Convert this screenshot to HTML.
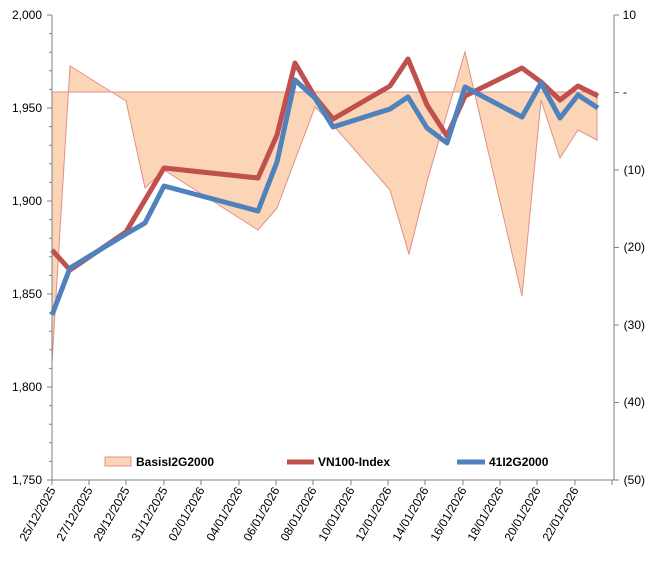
<!DOCTYPE html>
<html><head><meta charset="utf-8"><style>
body{margin:0;background:#fff}
text{font-family:"Liberation Sans",Arial,sans-serif;font-size:12px;fill:#000}
</style></head><body>
<svg width="653" height="561" viewBox="0 0 653 561">
<polygon fill="#fbd5b5" stroke="#e0908a" stroke-width="1" points="52,92 52,362 70,66 126,101 145,188 164,170 258,230 277,208 295,160 315,107 333,125 390,190 409,254 428,178 465,52 522,296 541,100 560,158 578,130 597,140 597,92"/>
<line x1="52" y1="92" x2="597" y2="92" stroke="#e0908a" stroke-width="1"/>
<polyline fill="none" stroke="#c0504d" stroke-width="5" stroke-linejoin="round" points="52,250 70,270 126,232 145,200 164,168 258,178 277,135 295,63 315,97 333,119 390,86 408,59 427,105 447,136 465,96 522,68 541,82 560,100 578,86 598,96"/>
<polyline fill="none" stroke="#4f81bd" stroke-width="5" stroke-linejoin="round" points="52,315 70,268 126,234 145,223 164,186 258,211 277,162 295,80 315,98 333,127 390,109 408,97 427,128 447,143 465,87 522,117 541,83 560,118 578,95 598,108"/>
<g stroke="#808080" stroke-width="1">
<line x1="52" y1="15" x2="52" y2="480"/>
<line x1="614" y1="15" x2="614" y2="480"/>
<line x1="52" y1="480" x2="614" y2="480"/>
<path d="M47,15H52M47,108H52M47,201H52M47,294H52M47,387H52M47,480H52M614,15H619M614,92.5H619M614,170H619M614,247.5H619M614,325H619M614,402.5H619M614,480H619"/>
<path d="M49,33.6H52M49,52.2H52M49,70.8H52M49,89.4H52M49,126.6H52M49,145.2H52M49,163.8H52M49,182.4H52M49,219.6H52M49,238.2H52M49,256.8H52M49,275.4H52M49,312.6H52M49,331.2H52M49,349.8H52M49,368.4H52M49,405.6H52M49,424.2H52M49,442.8H52M49,461.4H52"/>
<path d="M52,480V485M89,480V485M126,480V485M164,480V485M201,480V485M239,480V485M276,480V485M313,480V485M351,480V485M388,480V485M425,480V485M463,480V485M500,480V485M537,480V485M575,480V485M612,480V485"/>
</g>
<g text-anchor="end">
<text x="42" y="19">2,000</text><text x="42" y="112">1,950</text><text x="42" y="205">1,900</text><text x="42" y="298">1,850</text><text x="42" y="391">1,800</text><text x="42" y="484">1,750</text>
</g>
<g text-anchor="end">
<text x="636" y="19">10</text><text x="627" y="96">-</text><text x="645" y="174">(10)</text><text x="645" y="251">(20)</text><text x="645" y="329">(30)</text><text x="645" y="406">(40)</text><text x="645" y="484">(50)</text>
</g>
<g text-anchor="end">
<text transform="translate(56,490) rotate(-60)">25/12/2025</text>
<text transform="translate(93,490) rotate(-60)">27/12/2025</text>
<text transform="translate(130,490) rotate(-60)">29/12/2025</text>
<text transform="translate(168,490) rotate(-60)">31/12/2025</text>
<text transform="translate(205,490) rotate(-60)">02/01/2026</text>
<text transform="translate(243,490) rotate(-60)">04/01/2026</text>
<text transform="translate(280,490) rotate(-60)">06/01/2026</text>
<text transform="translate(317,490) rotate(-60)">08/01/2026</text>
<text transform="translate(355,490) rotate(-60)">10/01/2026</text>
<text transform="translate(392,490) rotate(-60)">12/01/2026</text>
<text transform="translate(429,490) rotate(-60)">14/01/2026</text>
<text transform="translate(467,490) rotate(-60)">16/01/2026</text>
<text transform="translate(504,490) rotate(-60)">18/01/2026</text>
<text transform="translate(541,490) rotate(-60)">20/01/2026</text>
<text transform="translate(579,490) rotate(-60)">22/01/2026</text>
</g>
<rect x="105" y="457" width="26" height="9" fill="#fbd5b5" stroke="#e0908a"/>
<text x="136" y="466" font-weight="bold">BasisI2G2000</text>
<line x1="287" y1="462" x2="314" y2="462" stroke="#c0504d" stroke-width="5"/>
<text x="318" y="466" font-weight="bold">VN100-Index</text>
<line x1="457" y1="462" x2="485" y2="462" stroke="#4f81bd" stroke-width="5"/>
<text x="489" y="466" font-weight="bold">41I2G2000</text>
</svg>
</body></html>
